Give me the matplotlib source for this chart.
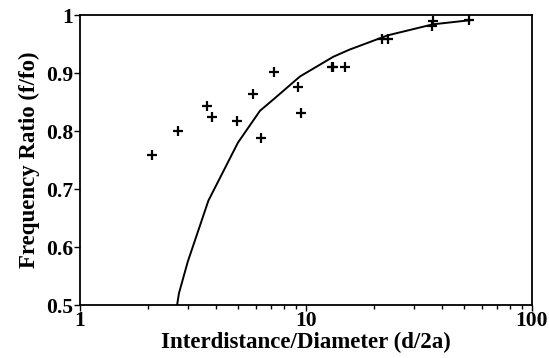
import matplotlib.pyplot as plt
import numpy as np

# measured points (d/2a, f/fo)
pts_x = [2.08, 2.71, 3.65, 3.84, 4.95, 5.85, 6.32, 7.22, 9.25, 9.47,
         13.0, 13.2, 14.9, 21.8, 23.1, 36.3, 36.2, 52.6]
pts_y = [0.759, 0.800, 0.843, 0.824, 0.818, 0.864, 0.788, 0.901, 0.876, 0.831,
         0.911, 0.911, 0.911, 0.958, 0.958, 0.990, 0.981, 0.991]

# theoretical curve
curve_x = [2.69, 2.74, 3.0, 3.7, 5.0, 6.26, 7.3, 9.4, 13.2, 15.5, 23.0, 36.5, 53.0]
curve_y = [0.50, 0.52, 0.575, 0.68, 0.78, 0.835, 0.857, 0.894, 0.928, 0.940, 0.965, 0.984, 0.991]

plt.rcParams['font.family'] = 'Liberation Serif'
plt.rcParams['font.weight'] = 'bold'

fig = plt.figure(figsize=(5.49, 3.58), dpi=100)
ax = fig.add_axes([0.1457, 0.148, 0.8233, 0.81])

ax.plot(curve_x, curve_y, color="black", linewidth=1.4)
ax.plot(pts_x, pts_y, linestyle="none", marker="+", color="black",
        markersize=7, markeredgewidth=1.6)

ax.set_xscale('log')
ax.set_xlim(1, 100)
ax.set_ylim(0.5, 1.0)
ax.set_yticks([0.5, 0.6, 0.7, 0.8, 0.9, 1.0])
ax.set_yticklabels(['0.5', '0.6', '0.7', '0.8', '0.9', '1'])
ax.set_xticks([1, 10, 100])
ax.set_xticklabels(['1', '10', '100'])

ax.tick_params(axis='both', which='major', direction='out', length=4, width=1,
               labelsize=15.5, pad=1)
ax.tick_params(axis='x', which='major', pad=0)
ax.tick_params(axis='x', which='minor', direction='out', length=3, width=1)
for s in ax.spines.values():
    s.set_linewidth(1.3)

ax.set_xlabel('Interdistance/Diameter (d/2a)', fontsize=16.5, fontweight='bold', labelpad=1)
ax.set_ylabel('Frequency Ratio (f/fo)', fontsize=16.5, fontweight='bold', labelpad=4)

fig.savefig('out.png', dpi=100)
